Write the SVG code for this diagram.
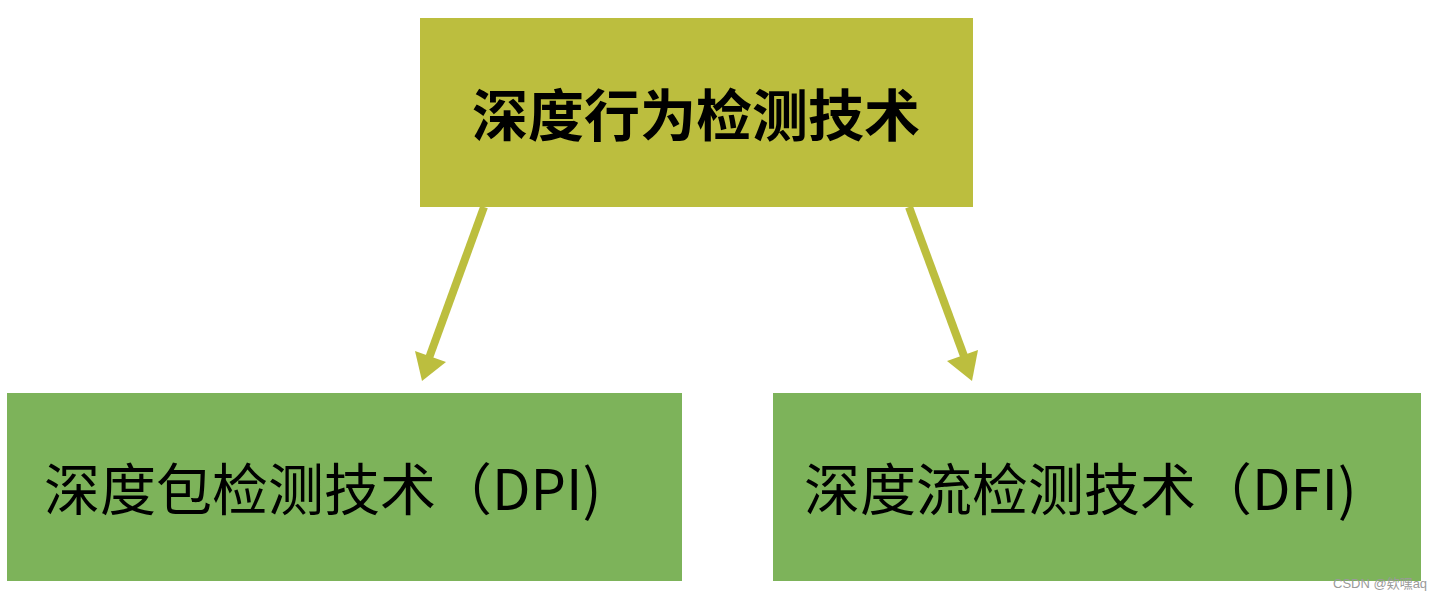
<svg xmlns="http://www.w3.org/2000/svg" width="1443" height="599" viewBox="0 0 1443 599">
  <style>
    .top { fill: #BCBE3E; }
    .leaf { fill: #7DB35A; }
    .conn { stroke: #BCBE3E; stroke-width: 8; fill: none; }
    .head { fill: #BCBE3E; }
    .t { font-family: "Noto Sans CJK SC", "Noto Sans", sans-serif; fill: #000; }
    .title { font-size: 56px; font-weight: bold; }
    .lbl { font-size: 56px; }
    .wm { font-family: "Liberation Sans", "Noto Sans CJK SC", sans-serif; font-size: 13px; fill: #9a9a9a; }
  </style>
  <rect width="1443" height="599" fill="#ffffff"/>
  <g id="connectors">
    <line class="conn" x1="484" y1="207" x2="429" y2="358"/>
    <polygon class="head" points="415,351 446,362 422,381"/>
    <line class="conn" x1="909" y1="207" x2="964" y2="356"/>
    <polygon class="head" points="947,361 978,350 972,381"/>
  </g>
  <g id="node-root">
    <rect class="top" x="420" y="18" width="553" height="189"/>
    <text class="t title" x="696" y="136" text-anchor="middle">深度行为检测技术</text>
  </g>
  <g id="node-dpi">
    <rect class="leaf" x="7" y="393" width="675" height="188"/>
    <text class="t lbl" x="44" y="510">深度包检测技术（DPI)</text>
  </g>
  <g id="node-dfi">
    <rect class="leaf" x="773" y="393" width="648" height="188"/>
    <text class="t lbl" x="804" y="510">深度流检测技术（DFI)</text>
  </g>
  <text class="wm" x="1333" y="588">CSDN @欸嘿aq</text>
</svg>
